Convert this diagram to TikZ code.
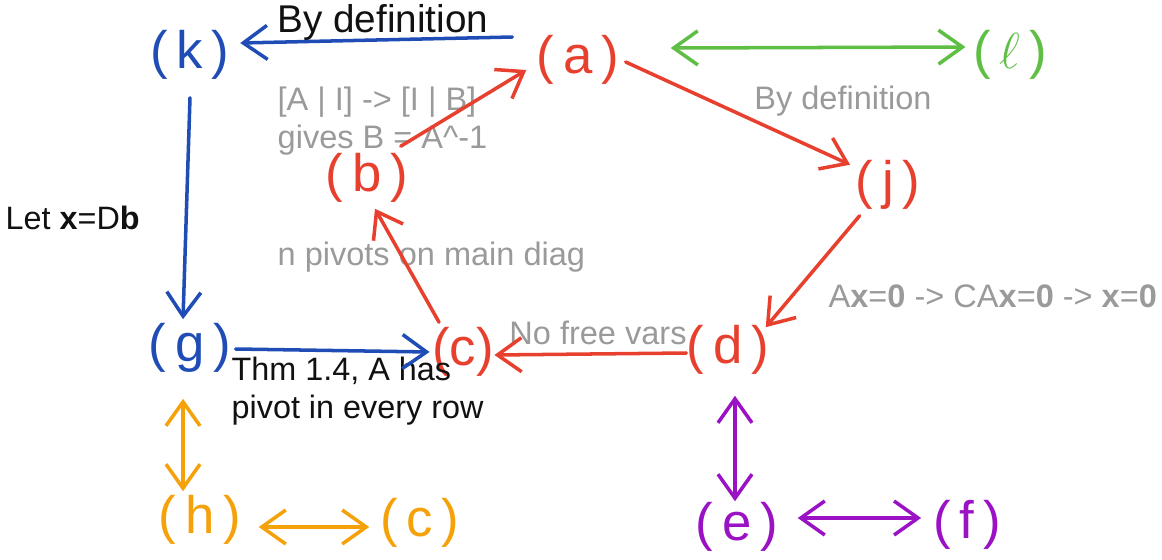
\documentclass[tikz,border=0pt]{standalone}
\usepackage{fontspec}
\setmainfont{Liberation Sans}
\usetikzlibrary{arrows.meta}
\definecolor{penblue}{HTML}{1F4DB5}
\definecolor{penred}{HTML}{E8402E}
\definecolor{pengreen}{HTML}{5FBF45}
\definecolor{penorange}{HTML}{F5A10A}
\definecolor{penpurple}{HTML}{9A12C4}
\definecolor{notegray}{HTML}{9A9A9A}
\definecolor{ink}{HTML}{111111}

\begin{document}
\begin{tikzpicture}[
  x=0.01cm, y=-0.01cm,
  >={Straight Barb[length=2.4mm,width=3.4mm]},
  stmt/.style={inner sep=0pt,font=\fontsize{15}{15}\selectfont},
  note/.style={text=notegray,inner sep=0pt,align=left,font=\fontsize{9.25}{10.8}\selectfont},
  remark/.style={text=ink,inner sep=0pt,align=left,font=\fontsize{9.2}{10.8}\selectfont},
  imp/.style={line width=1pt,line cap=round,->},
  iff/.style={line width=1pt,line cap=round,<->}
]
  \useasboundingbox (0,0) rectangle (1162,560);

  % statements
  \node[stmt,text=penblue] (k) at (190,55) {(\,k\,)};
  \node[stmt,text=penred] (a) at (578,60) {(\,a\,)};
  \node[stmt,text=pengreen] (l) at (1010,55) {(\,$\ell$\,)};
  \node[stmt,text=penred] (b) at (367,178) {(\,b\,)};
  \node[stmt,text=penred] (j) at (888,185) {(\,j\,)};
  \node[stmt,text=penblue] (g) at (190,348) {(\,g\,)};
  \node[stmt,text=penred] (c) at (463,352) {(c)};
  \node[stmt,text=penred] (d) at (728,350) {(\,d\,)};
  \node[stmt,text=penorange] (h) at (200,520) {(\,h\,)};
  \node[stmt,text=penorange] (c2) at (420,523) {(\,c\,)};
  \node[stmt,text=penpurple] (e) at (737,527) {(\,e\,)};
  \node[stmt,text=penpurple] (f) at (967,525) {(\,f\,)};

  % reasons
  \node[remark,font=\fontsize{11}{12}\selectfont] (defk) at (383,22) {By definition};
  \node[note] (defj) at (843,101) {By definition};
  \node[note,anchor=west] (rref) at (277,121) {[A | I] -> [I | B]\\gives B = A\textasciicircum-1};
  \node[note,anchor=west] (pivdiag) at (277,257) {n pivots on main diag};
  \node[note,anchor=west] (nullchain) at (828,296) {A\textbf{x}=\textbf{0} -> CA\textbf{x}=\textbf{0} -> \textbf{x}=\textbf{0}};
  \node[note] (nofree) at (598,333) {No free vars};
  \node[remark,anchor=west] (letx) at (5,218) {Let \textbf{x}=D\textbf{b}};
  \node[remark,anchor=west] (thm) at (231,391) {Thm 1.4, A has\\pivot in every row};

  % red chain
  \draw[imp,penred] ([shift={(6,2)}]a.east) -- ([shift={(-5,5)}]j.north west);
  \draw[imp,penred] ([shift={(4.5,5.5)}]j.south west) -- ([shift={(-4,2.5)}]d.north east);
  \draw[imp,penred] ([shift={(0,3)}]d.west) -- ([shift={(0,3)}]c.east);
  \draw[imp,penred] ([shift={(7.5,-4.5)}]c.north west) -- ([shift={(8,5.5)}]b.south);
  \draw[imp,penred] ([shift={(-8,-6.5)}]b.north east) -- ([shift={(-10,10)}]a.west);

  % blue chain
  \draw[imp,penblue] ([shift={(-24,-23)}]a.west) -- ([shift={(10,-12)}]k.east);
  \draw[imp,penblue] ([shift={(0,17.5)}]k.south) -- ([shift={(-7,-3.5)}]g.north);
  \draw[imp,penblue] ([shift={(4,1)}]g.east) -- ([shift={(-2,0)}]c.west);

  % equivalences
  \draw[iff,pengreen] ([shift={(51,-12)}]a.east) -- ([shift={(-7,-8)}]l.west);
  \draw[iff,penorange] ([shift={(-7,25.5)}]g.south) -- ([shift={(-17,-3.5)}]h.north);
  \draw[iff,penorange] ([shift={(17,7)}]h.east) -- ([shift={(-10.5,4)}]c2.west);
  \draw[iff,penpurple] ([shift={(7,20.5)}]d.south) -- ([shift={(-2,-0.5)}]e.north);
  \draw[iff,penpurple] ([shift={(19,-9)}]e.east) -- ([shift={(-11.5,-7)}]f.west);
\end{tikzpicture}
\end{document}
